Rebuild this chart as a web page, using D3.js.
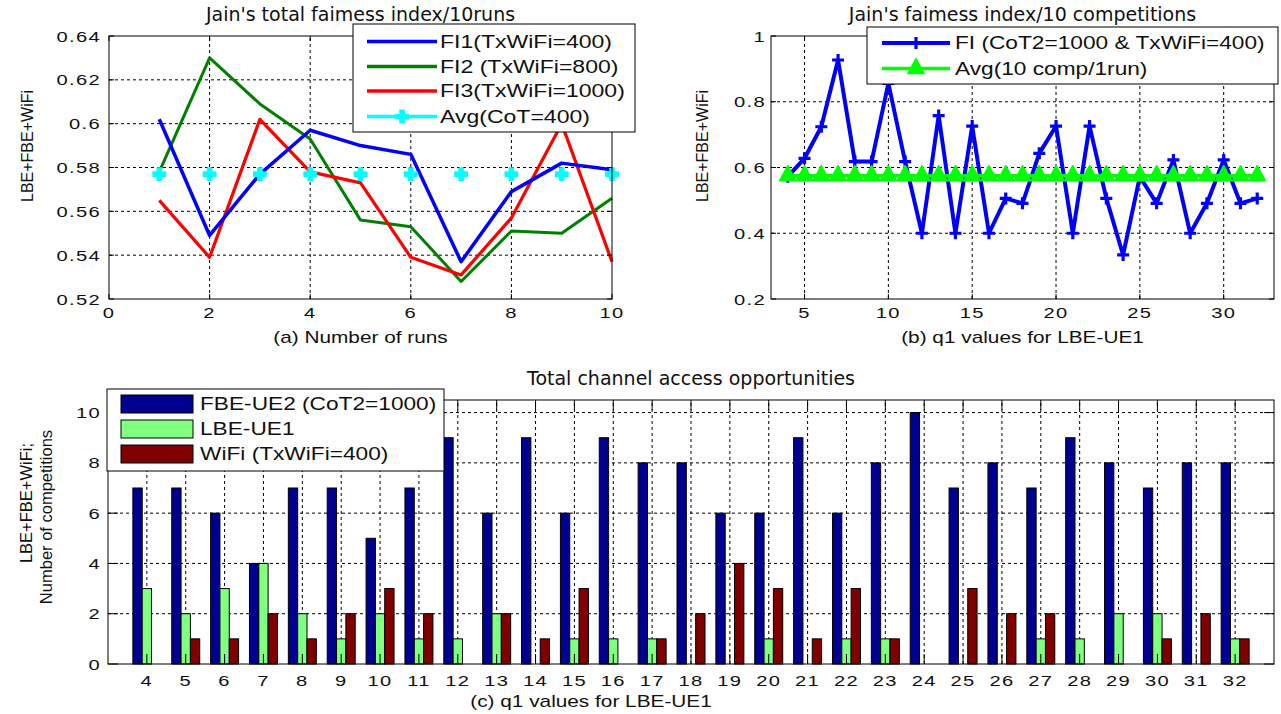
<!DOCTYPE html>
<html><head><meta charset="utf-8">
<script src="https://cdn.jsdelivr.net/npm/d3@7"></script>
<style>body{margin:0;background:#fff;} svg{display:block}</style>
</head><body><svg id="c" width="1281" height="714"></svg>
<script>
// ---------- DATA ----------
const runs = [1,2,3,4,5,6,7,8,9,10];
const fi1  = [0.602,0.549,0.577,0.597,0.590,0.586,0.537,0.569,0.582,0.579];
const fi2  = [0.578,0.630,0.609,0.593,0.556,0.553,0.528,0.551,0.550,0.566];
const fi3  = [0.565,0.539,0.602,0.578,0.573,0.539,0.531,0.557,0.600,0.537];
const avgA = [0.577,0.577,0.577,0.577,0.577,0.577,0.577,0.577,0.577,0.577];
const xTicksA = [0,2,4,6,8,10];
const yTicksA = [0.52,0.54,0.56,0.58,0.60,0.62,0.64];
const yLabelsA = ["0.52","0.54","0.56","0.58","0.6","0.62","0.64"];

const q1 = [4,5,6,7,8,9,10,11,12,13,14,15,16,17,18,19,20,21,22,23,24,25,26,27,28,29,30,31,32];
const fiB = [0.572,0.628,0.724,0.927,0.618,0.618,0.856,0.618,0.400,0.758,0.400,0.726,0.400,0.506,0.491,0.643,0.726,0.400,0.726,0.506,0.334,0.572,0.491,0.623,0.400,0.491,0.623,0.491,0.506];
const avgB = [0.575,0.575,0.575,0.575,0.575,0.575,0.575,0.575,0.575,0.575,0.575,0.575,0.575,0.575,0.575,0.575,0.575,0.575,0.575,0.575,0.575,0.575,0.575,0.575,0.575,0.575,0.575,0.575,0.575];
const xTicksB = [5,10,15,20,25,30];
const yTicksB = [0.2,0.4,0.6,0.8,1];
const yLabelsB = ["0.2","0.4","0.6","0.8","1"];

const fbe  = [7,7,6,4,7,7,5,7,9,6,9,6,9,8,8,6,6,9,6,8,10,7,8,7,9,8,7,8,8];
const lbe  = [3,2,3,4,2,1,2,1,1,2,0,1,1,1,0,0,1,0,1,1,0,0,0,1,1,2,2,0,1];
const wifi = [0,1,1,2,1,2,3,2,0,2,1,3,0,1,2,4,3,1,3,1,0,3,2,2,0,0,1,2,1];
const yTicksC = [0,2,4,6,8,10];

// ---------- HELPERS ----------
const svg = d3.select('#c');
const AR = 'Liberation Sans, Arial, Helvetica, sans-serif';
const DV = 'DejaVu Sans, Verdana, sans-serif';

function txt(g, x, y, s, o = {}) {
  const t = g.append('text')
    .attr('transform', `translate(${x},${y})` + (o.rot ? ` rotate(${o.rot})` : '') + ` scale(${o.sx || 1},1)`)
    .attr('font-family', o.ff || AR)
    .attr('font-size', o.fs || 15)
    .attr('text-anchor', o.anchor || 'start')
    .attr('fill', o.fill || '#111')
    .text(s);
  if (o.ls) t.attr('letter-spacing', o.ls);
  if (o.dy) t.attr('dy', o.dy);
  return t;
}

function gridAndFrame(g, x, y, xt, yt, tl) {
  const [x0, x1] = x.range();
  const [yb, yt0] = y.range();
  const gg = g.append('g').attr('stroke', '#000').attr('stroke-width', 1).attr('stroke-dasharray', '3,3');
  xt.forEach(v => { const p = x(v); if (p > x0 + 1 && p < x1 - 1)
    gg.append('line').attr('x1', p).attr('x2', p).attr('y1', yb).attr('y2', yt0); });
  yt.forEach(v => { const p = y(v); if (p < yb - 1 && p > yt0 + 1)
    gg.append('line').attr('x1', x0).attr('x2', x1).attr('y1', p).attr('y2', p); });
}
function frameTicks(g, x, y, xt, yt, tl) {
  const [x0, x1] = x.range();
  const [yb, yt0] = y.range();
  const f = g.append('g').attr('stroke', '#000').attr('stroke-width', 1);
  f.append('rect').attr('x', x0).attr('y', yt0).attr('width', x1 - x0).attr('height', yb - yt0).attr('fill', 'none');
  xt.forEach(v => { const p = x(v);
    f.append('line').attr('x1', p).attr('x2', p).attr('y1', yb).attr('y2', yb - tl);
    f.append('line').attr('x1', p).attr('x2', p).attr('y1', yt0).attr('y2', yt0 + tl); });
  yt.forEach(v => { const p = y(v);
    f.append('line').attr('x1', x0).attr('x2', x0 + tl).attr('y1', p).attr('y2', p);
    f.append('line').attr('x1', x1).attr('x2', x1 - tl).attr('y1', p).attr('y2', p); });
}
const TK = {fs: 15.5, sx: 1.3, ls: 1};

// ---------- (a) ----------
{
  const g = svg.append('g');
  const x = d3.scaleLinear().domain([0, 10]).range([109, 612]);
  const y = d3.scaleLinear().domain([0.52, 0.64]).range([299, 36]);
  gridAndFrame(g, x, y, xTicksA, yTicksA);
  const line = d3.line().x((d, i) => x(runs[i])).y(d => y(d));
  [[fi2, '#008000', 3], [fi3, '#ff0000', 3.2], [fi1, '#0000ff', 3.5]].forEach(([s, c, w]) =>
    g.append('path').datum(s).attr('d', line).attr('fill', 'none').attr('stroke', c).attr('stroke-width', w).attr('stroke-linejoin', 'round'));
  const mk = d3.symbol().type(d3.symbolCross).size(85);
  g.selectAll('.av').data(avgA).enter().append('path')
    .attr('transform', (d, i) => `translate(${x(runs[i])},${y(d)}) rotate(45) rotate(-45)`)
    .attr('d', mk).attr('fill', '#00ffff').attr('stroke', '#00ffff').attr('stroke-width', 1.5).attr('stroke-linejoin', 'round');
  frameTicks(g, x, y, xTicksA, yTicksA, 5);
  yTicksA.forEach((v, i) => txt(g, 101, y(v), yLabelsA[i], {...TK, anchor: 'end', dy: '0.36em'}));
  xTicksA.forEach(v => txt(g, x(v), 318, String(v), {...TK, anchor: 'middle'}));
  txt(g, 360.5, 21, "Jain's total faimess index/10runs", {ff: DV, fs: 19, anchor: 'middle'});
  txt(g, 360.5, 343, "(a) Number of runs", {fs: 16, sx: 1.3, anchor: 'middle'});
  txt(g, 33, 146, "LBE+FBE+WiFi", {fs: 16, rot: -90, anchor: 'middle'});
  // legend
  const L = g.append('g');
  L.append('rect').attr('x', 353).attr('y', 24).attr('width', 282).attr('height', 108).attr('fill', '#fff').attr('stroke', '#000');
  const items = [['FI1(TxWiFi=400)', '#0000ff'], ['FI2 (TxWiFi=800)', '#008000'], ['FI3(TxWiFi=1000)', '#ff0000'], ['Avg(CoT=400)', '#00ffff']];
  const ly = [41.5, 66.5, 91, 116.5];
  items.forEach(([s, c], i) => {
    L.append('line').attr('x1', 367).attr('x2', 437).attr('y1', ly[i]).attr('y2', ly[i]).attr('stroke', c).attr('stroke-width', 3.5);
    txt(L, 440, ly[i], s, {fs: 18, sx: 1.28, dy: '0.36em'});
  });
  L.append('path').attr('transform', `translate(402,${ly[3]})`).attr('d', mk).attr('fill', '#00ffff').attr('stroke', '#00ffff').attr('stroke-width', 1.5);
}

// ---------- (b) ----------
{
  const g = svg.append('g');
  const x = d3.scaleLinear().domain([3, 33]).range([771, 1274]);
  const y = d3.scaleLinear().domain([0.2, 1]).range([299, 36]);
  gridAndFrame(g, x, y, xTicksB, yTicksB);
  const line = d3.line().x((d, i) => x(q1[i])).y(d => y(d));
  g.append('path').datum(fiB).attr('d', line).attr('fill', 'none').attr('stroke', '#0000ff').attr('stroke-width', 4).attr('stroke-linejoin', 'round');
  const plus = 'M-6,0H6M0,-6V6';
  g.selectAll('.pl').data(fiB).enter().append('path')
    .attr('transform', (d, i) => `translate(${x(q1[i])},${y(d)})`)
    .attr('d', plus).attr('stroke', '#0000ff').attr('stroke-width', 3.2).attr('fill', 'none');
  g.append('path').datum(avgB).attr('d', line).attr('fill', 'none').attr('stroke', '#00ff00').attr('stroke-width', 3.5);
  const tri = 'M0,-10L8,5L-8,5Z';
  g.selectAll('.tr').data(avgB).enter().append('path')
    .attr('transform', (d, i) => `translate(${x(q1[i])},${y(d)})`)
    .attr('d', tri).attr('fill', '#00ff00').attr('stroke', '#00ff00').attr('stroke-width', 1.5).attr('stroke-linejoin', 'round');
  frameTicks(g, x, y, xTicksB, yTicksB, 5);
  yTicksB.forEach((v, i) => txt(g, 766, y(v), yLabelsB[i], {...TK, anchor: 'end', dy: '0.36em'}));
  xTicksB.forEach(v => txt(g, x(v), 318, String(v), {...TK, anchor: 'middle'}));
  txt(g, 1022.5, 21, "Jain's faimess index/10 competitions", {ff: DV, fs: 19, anchor: 'middle'});
  txt(g, 1022.5, 343, "(b) q1 values for LBE-UE1", {fs: 16, sx: 1.3, anchor: 'middle'});
  txt(g, 708, 146, "LBE+FBE+WiFi", {fs: 16, rot: -90, anchor: 'middle'});
  const L = g.append('g');
  L.append('rect').attr('x', 867).attr('y', 27).attr('width', 411).attr('height', 57).attr('fill', '#fff').attr('stroke', '#000');
  const ly = [43, 68.5];
  L.append('line').attr('x1', 882).attr('x2', 950).attr('y1', ly[0]).attr('y2', ly[0]).attr('stroke', '#0000ff').attr('stroke-width', 4);
  L.append('path').attr('transform', `translate(916,${ly[0]})`).attr('d', plus).attr('stroke', '#0000ff').attr('stroke-width', 3.2);
  L.append('line').attr('x1', 882).attr('x2', 950).attr('y1', ly[1]).attr('y2', ly[1]).attr('stroke', '#00ff00').attr('stroke-width', 3.5);
  L.append('path').attr('transform', `translate(916,${ly[1]})`).attr('d', tri).attr('fill', '#00ff00').attr('stroke', '#00ff00').attr('stroke-width', 1.5);
  txt(L, 955, ly[0], 'FI (CoT2=1000 & TxWiFi=400)', {fs: 18, sx: 1.26, dy: '0.36em'});
  txt(L, 955, ly[1], 'Avg(10 comp/1run)', {fs: 18, sx: 1.26, dy: '0.36em'});
}

// ---------- (c) ----------
{
  const g = svg.append('g');
  const x = d3.scaleLinear().domain([3, 33]).range([108, 1274]);
  const y = d3.scaleLinear().domain([0, 10.5]).range([664, 400]);
  gridAndFrame(g, x, y, q1, yTicksC);
  const bw = 0.24;
  const series = [[fbe, '#000090', -1], [lbe, '#80ff80', 0], [wifi, '#800000', 1]];
  series.forEach(([s, c, off]) => {
    g.selectAll(null).data(s.map((v, i) => ({q: q1[i], v})).filter(d => d.v > 0)).enter().append('rect')
      .attr('x', d => x(d.q + (off - 0.5) * bw))
      .attr('width', d => x(d.q + (off + 0.5) * bw) - x(d.q + (off - 0.5) * bw))
      .attr('y', d => y(d.v)).attr('height', d => y(0) - y(d.v))
      .attr('fill', c).attr('stroke', '#000').attr('stroke-width', 1);
  });
  frameTicks(g, x, y, q1, yTicksC, 10);
  yTicksC.forEach(v => txt(g, 101, y(v), String(v), {...TK, anchor: 'end', dy: '0.36em'}));
  q1.forEach(v => txt(g, x(v), 686, String(v), {...TK, anchor: 'middle'}));
  txt(g, 691, 385, 'Total channel access opportunities', {ff: DV, fs: 19, anchor: 'middle'});
  txt(g, 591, 707, '(c) q1 values for LBE-UE1', {fs: 16, sx: 1.3, anchor: 'middle'});
  txt(g, 32, 503, 'LBE+FBE+WiFi;', {fs: 16.5, rot: -90, anchor: 'middle'});
  txt(g, 52, 517, 'Number of competitions', {fs: 16.5, rot: -90, anchor: 'middle'});
  const L = g.append('g');
  L.append('rect').attr('x', 107).attr('y', 389).attr('width', 337).attr('height', 82).attr('fill', '#fff').attr('stroke', '#000');
  const names = ['FBE-UE2 (CoT2=1000)', 'LBE-UE1', 'WiFi (TxWiFi=400)'];
  const ly = [404, 429, 454];
  series.forEach(([s, c], i) => {
    L.append('rect').attr('x', 121).attr('y', ly[i] - 9).attr('width', 72).attr('height', 18).attr('fill', c).attr('stroke', '#000');
    txt(L, 200, ly[i], names[i], {fs: 18, sx: 1.26, dy: '0.36em'});
  });
}
</script></body></html>
